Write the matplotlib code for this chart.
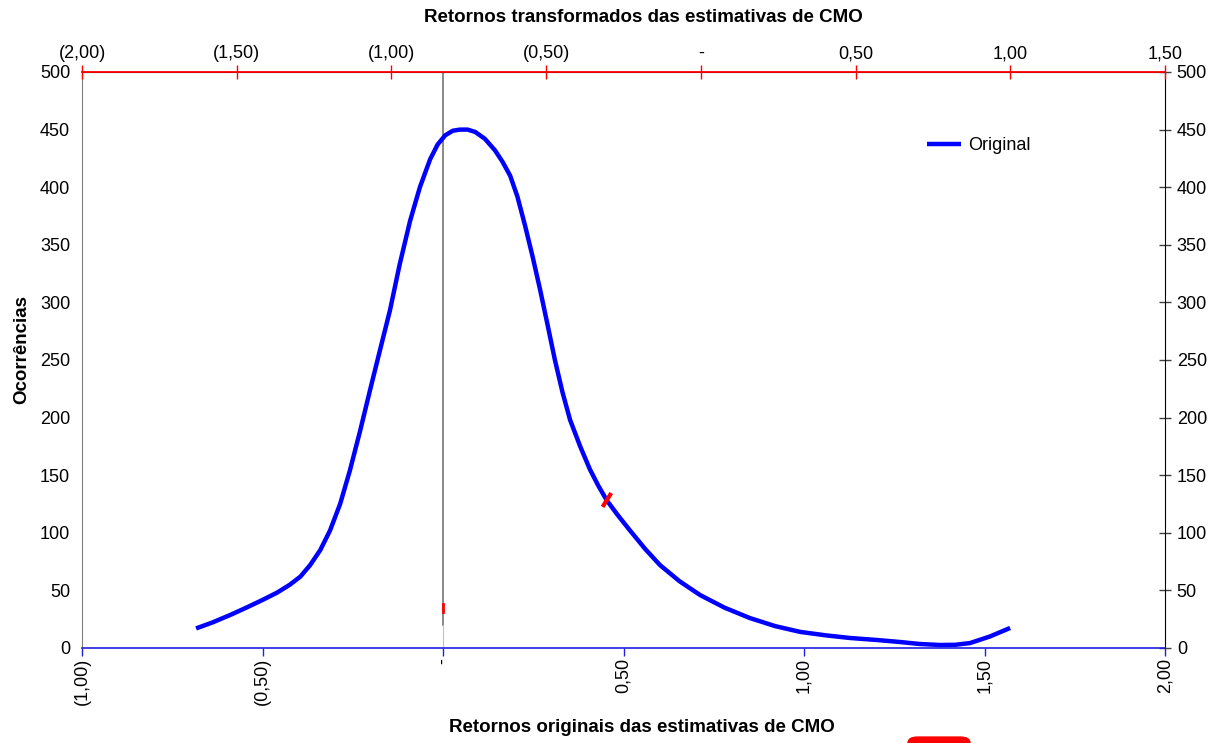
import matplotlib.pyplot as plt
from matplotlib.patches import FancyBboxPatch
import numpy as np

plt.rcParams['font.family'] = ['Liberation Sans', 'DejaVu Sans']

# curva original (retorno x ocorrencias)
ret_orig = [-0.684, -0.64, -0.59, -0.545, -0.50, -0.46, -0.424, -0.395, -0.368, -0.34,
            -0.313, -0.285, -0.258, -0.23, -0.202, -0.175, -0.147, -0.12, -0.091, -0.064,
            -0.036, -0.015, 0.006, 0.027, 0.047, 0.068, 0.089, 0.116, 0.144, 0.165,
            0.186, 0.206, 0.227, 0.248, 0.269, 0.29, 0.310, 0.331, 0.352, 0.38,
            0.407, 0.43, 0.454, 0.485, 0.518, 0.56, 0.601, 0.655, 0.712, 0.78,
            0.850, 0.92, 0.989, 1.06, 1.127, 1.2, 1.266, 1.32, 1.377, 1.42,
            1.460, 1.515, 1.571]
ocorr = [17, 22, 28.6, 35, 41.7, 48, 55, 62, 72, 85,
         102, 125, 154, 188, 224, 258, 293, 333, 371, 400,
         424, 437, 445, 449, 450, 450, 448, 442, 432, 422,
         410, 392, 367, 340, 311, 280, 250, 222, 198, 175,
         155, 141, 128, 115, 102, 86, 72, 58, 46, 35,
         26, 19, 14, 11, 8.7, 7, 5.2, 3.5, 2.6, 2.8,
         4.3, 10, 17.4]

# pequenos trechos da serie transformada (vermelha)
red_x = [0.0, 0.0]
red_y = [31, 38]
red2_x = [0.445, 0.463]
red2_y = [124, 133]

bot_ticks = [-1, -0.5, 0, 0.5, 1, 1.5, 2]
bot_labels = ['(1,00)', '(0,50)', '-', '0,50', '1,00', '1,50', '2,00']
top_ticks = [-2, -1.5, -1, -0.5, 0, 0.5, 1, 1.5]
top_labels = ['(2,00)', '(1,50)', '(1,00)', '(0,50)', '-', '0,50', '1,00', '1,50']
y_ticks = list(range(0, 501, 50))

fig = plt.figure(figsize=(12.18, 7.43), dpi=100)
ax = fig.add_axes([82 / 1218, 1 - 648 / 743, 1083 / 1218, 576 / 743])

ax.plot([0, 0], [20, 500], color='#808080', lw=1.3, zorder=2)
ax.plot([0, 0], [0, 20], color='#c0c0c0', lw=0.8, zorder=2)
ax.plot(ret_orig, ocorr, color='#0000ff', lw=3.2, label='Original', zorder=3,
        solid_capstyle='butt', solid_joinstyle='round')
ax.plot(red_x, red_y, color='#ff0000', lw=2, zorder=4)
ax.plot(red2_x, red2_y, color='#ff0000', lw=3, zorder=4)

ax.set_xlim(-1, 2)
ax.set_ylim(0, 500)
ax.set_xticks(bot_ticks)
ax.set_xticklabels(bot_labels, rotation=90, fontsize=13)
ax.set_yticks(y_ticks)
ax.tick_params(axis='x', colors='#2020e0', direction='out', length=6, width=1,
               labelcolor='black', pad=1)
ax.tick_params(axis='y', left=False, right=True, labelleft=True, labelright=True,
               direction='inout', length=9, width=1, color='#404040', labelsize=13, pad=4)
ax.spines['left'].set_color('#808080')
ax.spines['right'].set_color('black')
ax.spines['bottom'].set_color('#2020e0')
ax.spines['bottom'].set_linewidth(1.2)

ax_top = ax.twiny()
ax_top.set_xlim(-2, 1.5)
ax_top.set_xticks(top_ticks)
ax_top.set_xticklabels(top_labels, fontsize=13)
ax_top.tick_params(axis='x', colors='#ff0000', direction='inout', length=10, width=1,
                   labelcolor='black', pad=2)
ax_top.spines['top'].set_color('#ff0000')
ax_top.spines['top'].set_linewidth(1.3)
for s in ['left', 'right', 'bottom']:
    ax_top.spines[s].set_visible(False)

fig.text(643 / 1218, 1 - 18 / 743, 'Retornos transformados das estimativas de CMO',
         ha='center', va='center', fontsize=13.5, fontweight='bold')
fig.text(642 / 1218, 1 - 728 / 743, 'Retornos originais das estimativas de CMO',
         ha='center', va='center', fontsize=13.5, fontweight='bold')
fig.text(22 / 1218, 1 - 349 / 743, 'Ocorrências', rotation=90,
         ha='center', va='center', fontsize=13.5, fontweight='bold')

ax.legend(loc='upper left', bbox_to_anchor=(0.765, 0.915), frameon=False, fontsize=13,
          handlelength=1.9, handletextpad=0.4)

blob = FancyBboxPatch((908 / 1218, -0.01), 62 / 1218, 0.018,
                      boxstyle='round,pad=0,rounding_size=0.008',
                      transform=fig.transFigure, color='#ff0000', clip_on=False)
fig.patches.append(blob)

fig.savefig('out.png', dpi=100)
